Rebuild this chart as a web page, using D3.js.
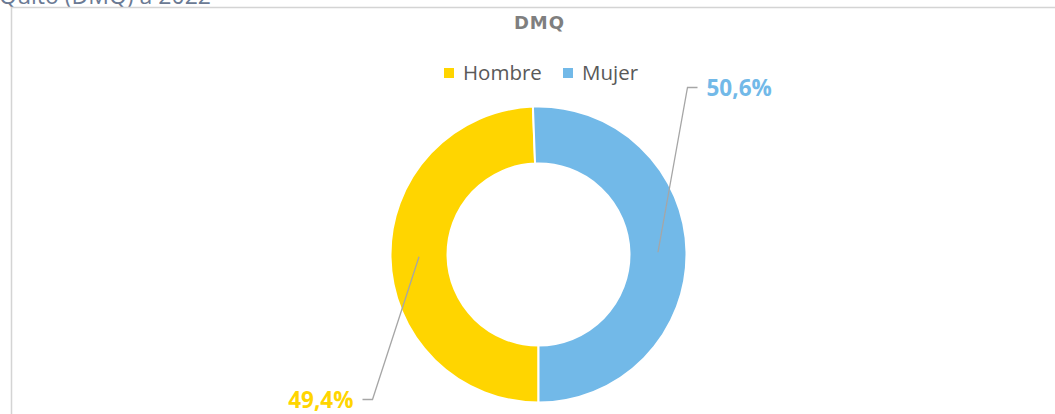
<!DOCTYPE html>
<html lang="es">
<head>
<meta charset="utf-8">
<title>DMQ</title>
<script src="https://cdn.jsdelivr.net/npm/d3@7"></script>
<style>
  body { margin: 0; background: #fff; }
  svg text { font-family: "Open Sans", sans-serif; }
</style>
</head>
<body>
<script>
// data
var categories = ["Hombre", "Mujer"];
var values = [49.4, 50.6];
var labels = ["49,4%", "50,6%"];
var colors = ["#FFD500", "#72B9E8"];

var w = 1055, h = 414;
var cx = 538.5, cy = 254.5, rOuter = 148, rInner = 91;

var svg = d3.select("body").append("svg")
  .attr("width", w).attr("height", h);

// page title, cut by the top edge as in the original
svg.append("text")
  .attr("x", -1).attr("y", 4)
  .style("font-size", "23px").style("fill", "#6b7a94")
  .text("Quito (DMQ) a 2022");

// chart frame
svg.append("rect")
  .attr("x", 11.5).attr("y", 7.5)
  .attr("width", 1100).attr("height", 500)
  .attr("fill", "none").attr("stroke", "#d4d4d4").attr("stroke-width", 1.5);

// title
svg.append("text")
  .attr("x", cx + 1).attr("y", 29)
  .attr("text-anchor", "middle")
  .style("font-family", "'DejaVu Sans', sans-serif")
  .style("font-size", "18px").style("font-weight", "bold")
  .style("letter-spacing", "1px").style("fill", "#7f7f7f")
  .text("DMQ");

// legend
var legend = svg.append("g").attr("transform", "translate(444,73)");
var legX = [0, 119];
categories.forEach(function(c, i) {
  var g = legend.append("g").attr("transform", "translate(" + legX[i] + ",0)");
  g.append("rect").attr("x", 0).attr("y", -5).attr("width", 10).attr("height", 10)
    .attr("fill", colors[i]);
  g.append("text").attr("x", 19).attr("y", 7)
    .style("font-size", "20.5px").style("fill", "#595959").text(c);
});

// donut
var pie = d3.pie().sort(null)
  .startAngle(Math.PI).endAngle(3 * Math.PI)
  .value(function(d) { return d; });
var arcs = pie(values);
var arc = d3.arc().innerRadius(rInner).outerRadius(rOuter);
var mid = d3.arc().innerRadius((rInner + rOuter) / 2).outerRadius((rInner + rOuter) / 2);

var chart = svg.append("g").attr("transform", "translate(" + cx + "," + cy + ")");
chart.selectAll("path")
  .data(arcs)
  .enter().append("path")
  .attr("d", arc)
  .attr("fill", function(d, i) { return colors[i]; })
  .attr("stroke", "#fff").attr("stroke-width", 2);

// data labels with leader lines (offsets relative to centre)
var labelPos = [[-176, 145], [159, -167]];
arcs.forEach(function(d, i) {
  var p = mid.centroid(d);
  var lp = labelPos[i];
  var right = lp[0] > 0;
  var elbow = [lp[0] + (right ? -10 : 10), lp[1]];
  chart.append("path")
    .attr("d", d3.line()([p, elbow, lp]))
    .attr("fill", "none").attr("stroke", "#a6a6a6").attr("stroke-width", 1.3);
  chart.append("text")
    .attr("x", lp[0] + (right ? 9 : -9)).attr("y", lp[1] + 8)
    .attr("text-anchor", right ? "start" : "end")
    .style("font-size", "22.5px").style("font-weight", "bold").style("fill", colors[i])
    .text(labels[i]);
});
</script>
</body>
</html>
